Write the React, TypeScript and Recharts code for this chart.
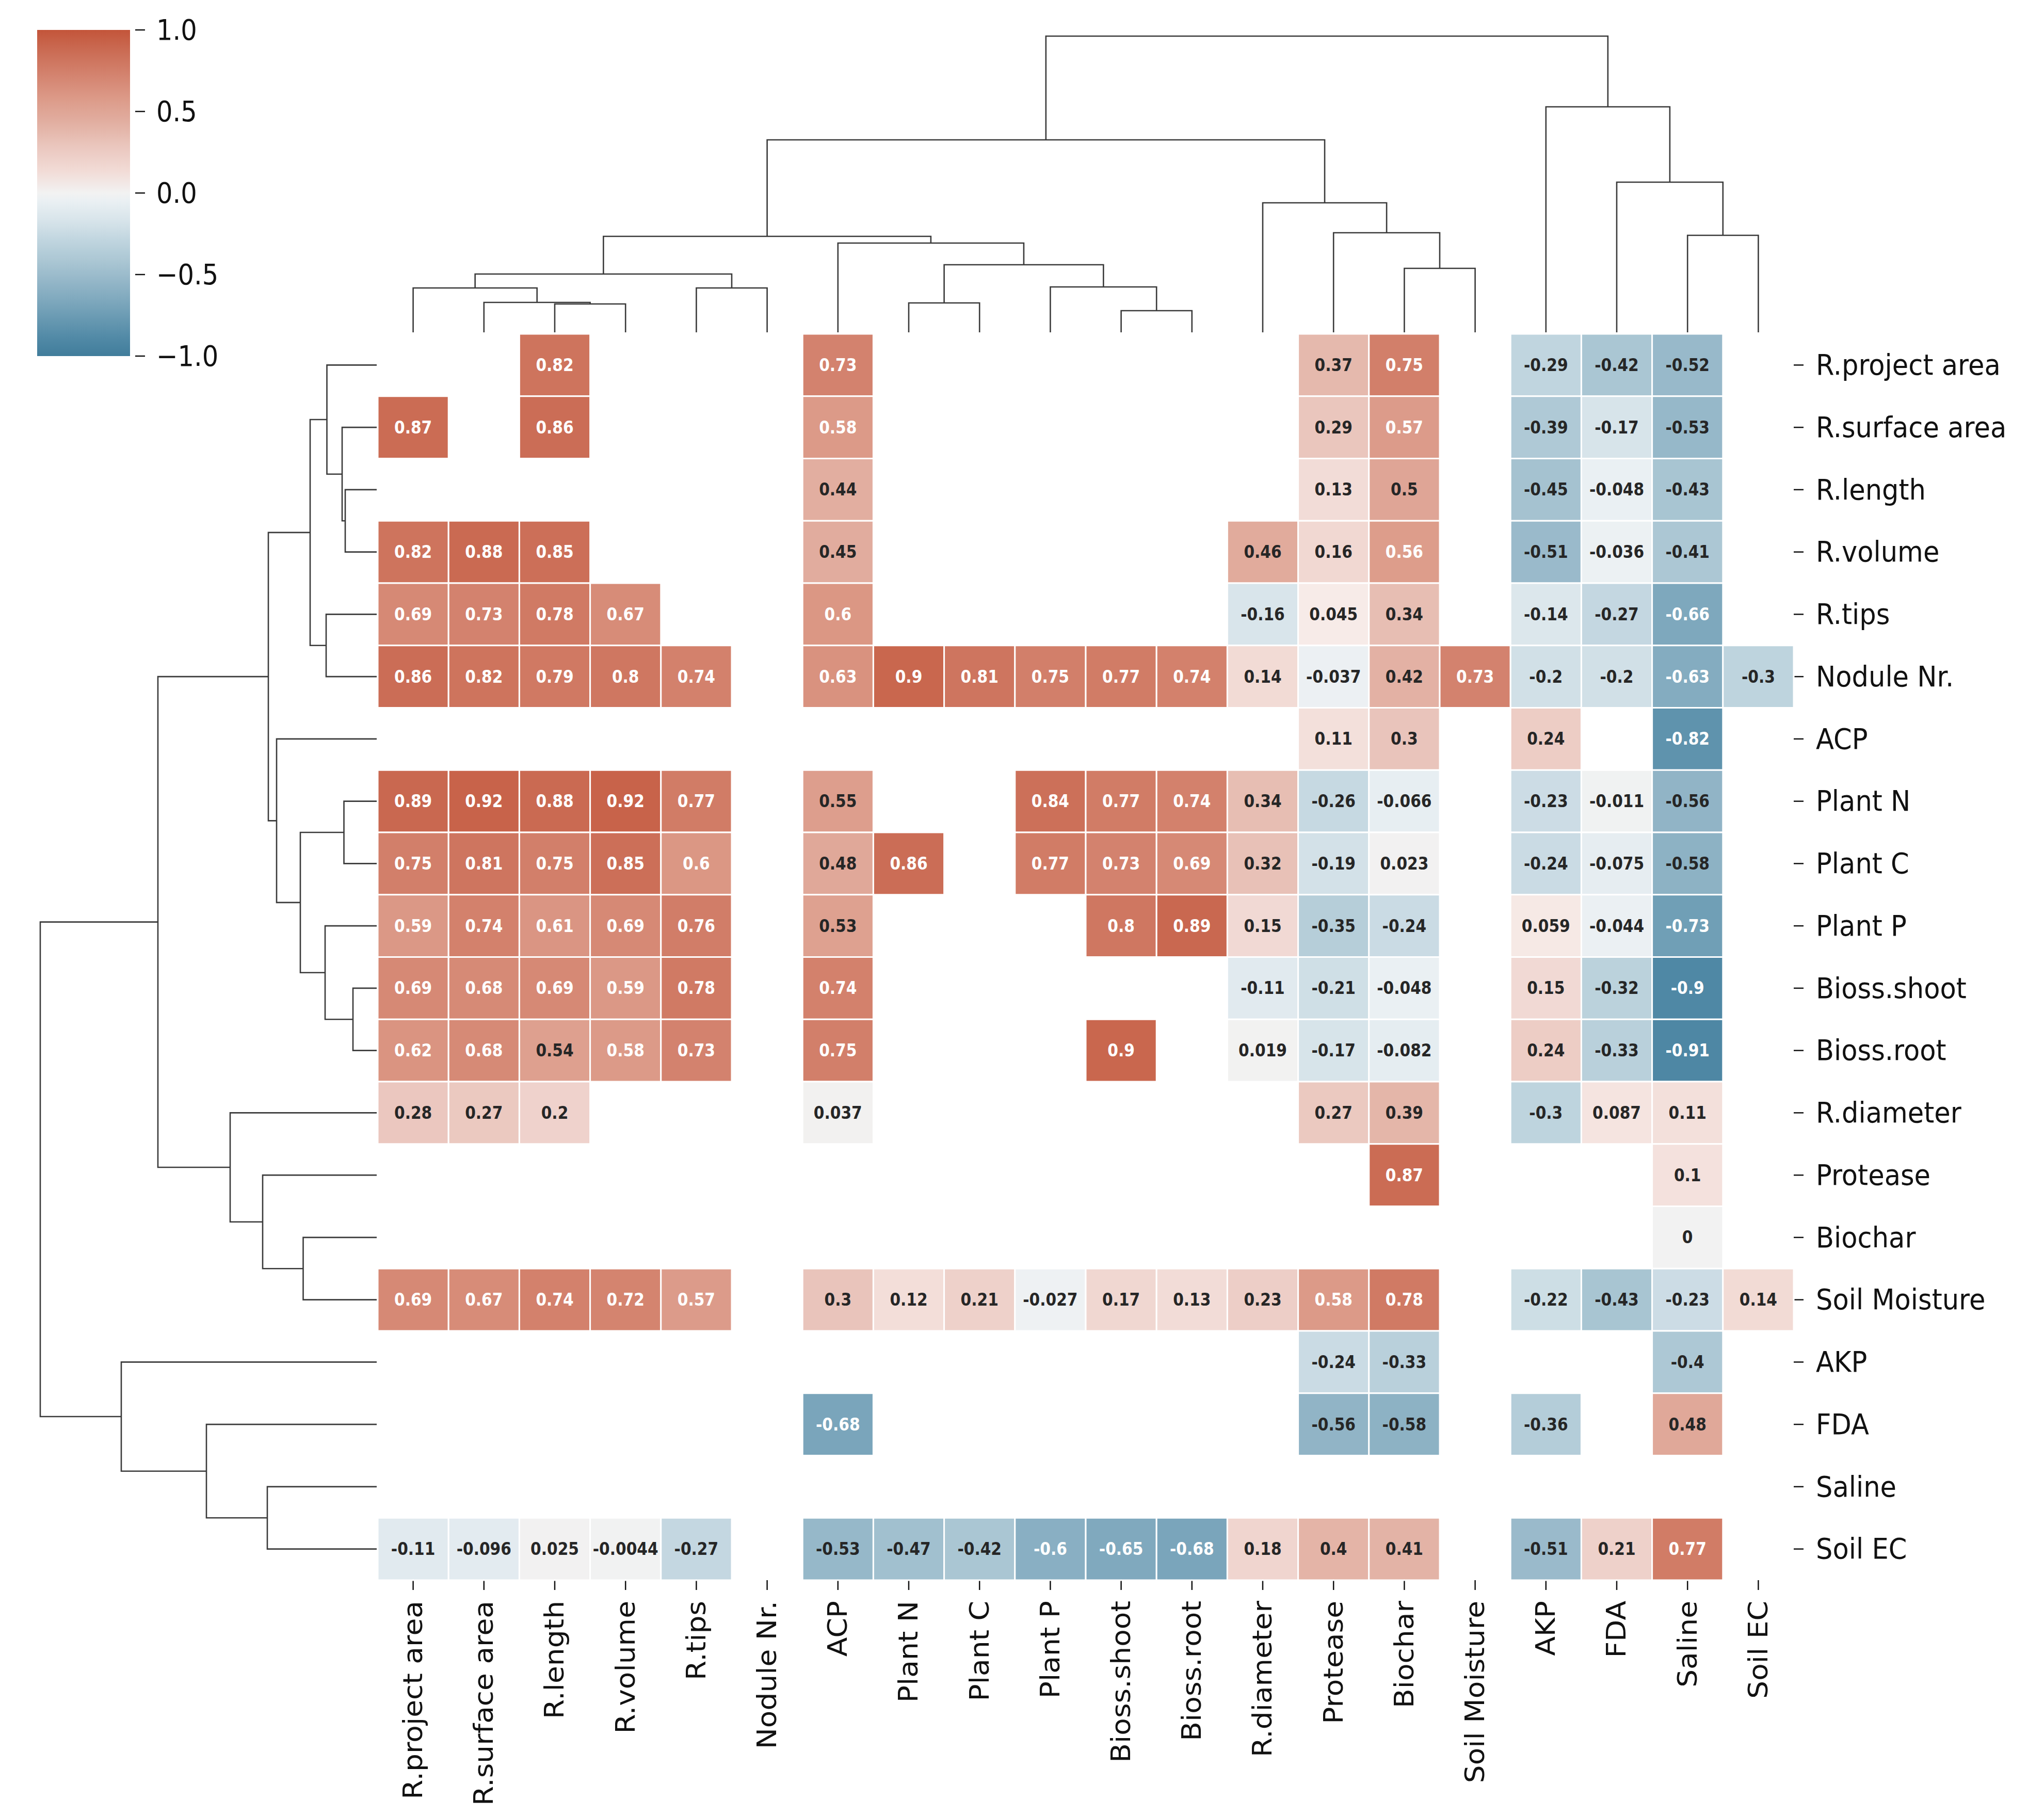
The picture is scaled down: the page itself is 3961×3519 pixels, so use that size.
import React from 'react';
import { ScatterChart, Scatter, XAxis, YAxis, BarChart, Bar } from 'recharts';

// ---------- data ----------
const labels = [
  'R.project area', 'R.surface area', 'R.length', 'R.volume', 'R.tips', 'Nodule Nr.', 'ACP',
  'Plant N', 'Plant C', 'Plant P', 'Bioss.shoot', 'Bioss.root', 'R.diameter', 'Protease',
  'Biochar', 'Soil Moisture', 'AKP', 'FDA', 'Saline', 'Soil EC',
];
const n = null;
const rowRProjectArea = [n, n, 0.82, n, n, n, 0.73, n, n, n, n, n, n, 0.37, 0.75, n, -0.29, -0.42, -0.52, n];
const rowRSurfaceArea = [0.87, n, 0.86, n, n, n, 0.58, n, n, n, n, n, n, 0.29, 0.57, n, -0.39, -0.17, -0.53, n];
const rowRLength = [n, n, n, n, n, n, 0.44, n, n, n, n, n, n, 0.13, 0.5, n, -0.45, -0.048, -0.43, n];
const rowRVolume = [0.82, 0.88, 0.85, n, n, n, 0.45, n, n, n, n, n, 0.46, 0.16, 0.56, n, -0.51, -0.036, -0.41, n];
const rowRTips = [0.69, 0.73, 0.78, 0.67, n, n, 0.6, n, n, n, n, n, -0.16, 0.045, 0.34, n, -0.14, -0.27, -0.66, n];
const rowNodule = [0.86, 0.82, 0.79, 0.8, 0.74, n, 0.63, 0.9, 0.81, 0.75, 0.77, 0.74, 0.14, -0.037, 0.42, 0.73, -0.2, -0.2, -0.63, -0.3];
const rowACP = [n, n, n, n, n, n, n, n, n, n, n, n, n, 0.11, 0.3, n, 0.24, n, -0.82, n];
const rowPlantN = [0.89, 0.92, 0.88, 0.92, 0.77, n, 0.55, n, n, 0.84, 0.77, 0.74, 0.34, -0.26, -0.066, n, -0.23, -0.011, -0.56, n];
const rowPlantC = [0.75, 0.81, 0.75, 0.85, 0.6, n, 0.48, 0.86, n, 0.77, 0.73, 0.69, 0.32, -0.19, 0.023, n, -0.24, -0.075, -0.58, n];
const rowPlantP = [0.59, 0.74, 0.61, 0.69, 0.76, n, 0.53, n, n, n, 0.8, 0.89, 0.15, -0.35, -0.24, n, 0.059, -0.044, -0.73, n];
const rowBiossShoot = [0.69, 0.68, 0.69, 0.59, 0.78, n, 0.74, n, n, n, n, n, -0.11, -0.21, -0.048, n, 0.15, -0.32, -0.9, n];
const rowBiossRoot = [0.62, 0.68, 0.54, 0.58, 0.73, n, 0.75, n, n, n, 0.9, n, 0.019, -0.17, -0.082, n, 0.24, -0.33, -0.91, n];
const rowRDiameter = [0.28, 0.27, 0.2, n, n, n, 0.037, n, n, n, n, n, n, 0.27, 0.39, n, -0.3, 0.087, 0.11, n];
const rowProtease = [n, n, n, n, n, n, n, n, n, n, n, n, n, n, 0.87, n, n, n, 0.1, n];
const rowBiochar = [n, n, n, n, n, n, n, n, n, n, n, n, n, n, n, n, n, n, 0, n];
const rowSoilMoisture = [0.69, 0.67, 0.74, 0.72, 0.57, n, 0.3, 0.12, 0.21, -0.027, 0.17, 0.13, 0.23, 0.58, 0.78, n, -0.22, -0.43, -0.23, 0.14];
const rowAKP = [n, n, n, n, n, n, n, n, n, n, n, n, n, -0.24, -0.33, n, n, n, -0.4, n];
const rowFDA = [n, n, n, n, n, n, -0.68, n, n, n, n, n, n, -0.56, -0.58, n, -0.36, n, 0.48, n];
const rowSaline = [n, n, n, n, n, n, n, n, n, n, n, n, n, n, n, n, n, n, n, n];
const rowSoilEC = [-0.11, -0.096, 0.025, -0.0044, -0.27, n, -0.53, -0.47, -0.42, -0.6, -0.65, -0.68, 0.18, 0.4, 0.41, n, -0.51, 0.21, 0.77, n];

const matrix = [
  rowRProjectArea, rowRSurfaceArea, rowRLength, rowRVolume, rowRTips, rowNodule, rowACP,
  rowPlantN, rowPlantC, rowPlantP, rowBiossShoot, rowBiossRoot, rowRDiameter, rowProtease,
  rowBiochar, rowSoilMoisture, rowAKP, rowFDA, rowSaline, rowSoilEC,
];

// linkage: [childA, childB, distance]; leaves 0..19 in display order, link k -> node 20+k
const colLinkage = [
  [2, 3, 0.55], [1, 20, 0.58], [0, 21, 0.86], [4, 5, 0.86], [22, 23, 1.13],
  [7, 8, 0.57], [10, 11, 0.42], [9, 26, 0.88], [25, 27, 1.31], [6, 28, 1.73],
  [24, 29, 1.86], [14, 15, 1.24], [13, 31, 1.93], [12, 32, 2.51], [30, 33, 3.73],
  [18, 19, 1.88], [17, 35, 2.91], [16, 36, 4.37], [34, 37, 5.74],
];
const rowLinkage = [
  [2, 3, 0.61], [1, 20, 0.67], [0, 21, 0.965], [4, 5, 0.98], [22, 23, 1.29],
  [7, 8, 0.635], [10, 11, 0.46], [9, 26, 1.0], [25, 27, 1.48], [6, 28, 1.94],
  [24, 29, 2.1], [14, 15, 1.425], [13, 31, 2.21], [12, 32, 2.84], [30, 33, 4.24],
  [18, 19, 2.12], [17, 35, 3.3], [16, 36, 4.95], [34, 37, 6.52],
];

const colorbarTicks = [-1, -0.5, 0, 0.5, 1];

// ---------- styles ----------
const colorStops: [number, string][] = [
  [-1, '#417d9b'], [-0.9, '#4f88a5'], [-0.66, '#7ea8bd'], [-0.52, '#98b9ca'], [-0.42, '#aac6d3'],
  [-0.29, '#c0d5df'], [-0.16, '#d9e5eb'], [-0.048, '#eaf0f3'], [0, '#f2f2f2'], [0.038, '#f2f1f0'],
  [0.045, '#f7ebe8'], [0.13, '#f2dcd7'], [0.29, '#eac6bd'], [0.37, '#e5b9ad'], [0.45, '#e1ac9e'],
  [0.58, '#dc9a88'], [0.75, '#d27f6a'], [0.88, '#ca6a52'], [1, '#c3553a'],
];
const gradientStops: [number, string][] = [
  [-1, '#417d9b'], [-0.9, '#4f88a5'], [-0.66, '#7ea8bd'], [-0.52, '#98b9ca'], [-0.42, '#aac6d3'],
  [-0.29, '#c0d5df'], [-0.16, '#d9e5eb'], [-0.048, '#eaf0f3'], [0, '#f2f2f2'],
  [0.13, '#f2dcd7'], [0.29, '#eac6bd'], [0.37, '#e5b9ad'], [0.45, '#e1ac9e'],
  [0.58, '#dc9a88'], [0.75, '#d27f6a'], [0.88, '#ca6a52'], [1, '#c3553a'],
];
const hexToRgb = (h: string) => [1, 3, 5].map((i) => parseInt(h.slice(i, i + 2), 16));
function colorFor(v: number) {
  for (let i = 0; i < colorStops.length - 1; i++) {
    const [a, ca] = colorStops[i];
    const [b, cb] = colorStops[i + 1];
    if (v >= a && v <= b) {
      const t = b === a ? 0 : (v - a) / (b - a);
      const A = hexToRgb(ca), B = hexToRgb(cb);
      const c = A.map((x, k) => Math.round(x + (B[k] - x) * t));
      return `rgb(${c[0]},${c[1]},${c[2]})`;
    }
  }
  return v < 0 ? colorStops[0][1] : colorStops[colorStops.length - 1][1];
}
const FONT = 'DejaVu Sans';
const LABEL_SIZE = 55;
const LABEL_SX = 0.93;
const DENDRO_STROKE = '#3a3a3a';

const HM_W = 2744;
const HM_H = 2415;
const CW = HM_W / 20;
const CH = HM_H / 20;

// ---------- derived ----------
const cells = matrix.flatMap((row, r) =>
  row
    .map((v, c) => (v === null ? null : { x: c + 0.5, y: r + 0.5, v }))
    .filter((d) => d !== null)
);
const leafTicks = labels.map((_, i) => i + 0.5);

function linkSegments(linkage: number[][]) {
  const pos: number[] = [];
  const hgt: number[] = [];
  for (let i = 0; i < 20; i++) { pos[i] = i + 0.5; hgt[i] = 0; }
  return linkage.map(([a, b, d], k) => {
    const pts = [
      { p: pos[a], h: hgt[a] },
      { p: pos[a], h: d },
      { p: pos[b], h: d },
      { p: pos[b], h: hgt[b] },
    ];
    pos[20 + k] = (pos[a] + pos[b]) / 2;
    hgt[20 + k] = d;
    return pts;
  });
}
const colSegs = linkSegments(colLinkage);
const rowSegs = linkSegments(rowLinkage);

const CellShape = (props: any) => {
  const { cx, cy, payload } = props;
  const v = payload.v as number;
  const white = v >= 0.555 || v <= -0.59;
  return (
    <g>
      <rect x={cx - CW / 2} y={cy - CH / 2} width={CW} height={CH} fill={colorFor(v)} stroke="#ffffff" strokeWidth={3} />
      <text x={0} y={0} transform={`translate(${cx},${cy}) scale(0.9,1)`} textAnchor="middle" dominantBaseline="central" fontFamily={FONT} fontWeight="bold" fontSize={33} fill={white ? '#ffffff' : '#262626'}>
        {String(v)}
      </text>
    </g>
  );
};

const BottomTick = (props: any) => {
  const { x, y, payload } = props;
  const name = labels[Math.round(payload.value - 0.5)];
  return (
    <text x={0} y={0} transform={`translate(${x},${y}) rotate(-90) scale(1,${LABEL_SX})`} textAnchor="end" dominantBaseline="central" fontFamily={FONT} fontSize={LABEL_SIZE} fill="#111">
      {name}
    </text>
  );
};

const RightTick = (props: any) => {
  const { x, y, payload } = props;
  const name = labels[Math.round(payload.value - 0.5)];
  return (
    <text x={0} y={0} transform={`translate(${x},${y}) scale(${LABEL_SX},1)`} textAnchor="start" dominantBaseline="central" fontFamily={FONT} fontSize={LABEL_SIZE} fill="#111">
      {name}
    </text>
  );
};

const CbarTick = (props: any) => {
  const { x, y, payload } = props;
  const v = payload.value as number;
  const s = (v < 0 ? '\u2212' : '') + Math.abs(v).toFixed(1);
  return (
    <text x={0} y={0} transform={`translate(${x},${y}) scale(0.9,1)`} textAnchor="start" dominantBaseline="central" fontFamily={FONT} fontSize={55} fill="#111">
      {s}
    </text>
  );
};

const Empty = () => <g />;

export default function App() {
  return (
    <div style={{ position: 'relative', width: 3961, height: 3519, margin: -8, background: '#ffffff', overflow: 'hidden' }}>
      {/* colorbar */}
      <div style={{ position: 'absolute', left: 0, top: 0 }}>
        <BarChart width={520} height={740} data={[{ name: 'cbar', range: [-1, 1] }]} margin={{ top: 58, left: 62, right: 58, bottom: 50 }}>
          <defs>
            <linearGradient id="cbarGrad" x1="0" y1="0" x2="0" y2="1">
              {gradientStops.slice().reverse().map(([v, c]) => (
                <stop key={v} offset={`${((1 - v) / 2) * 100}%`} stopColor={c} />
              ))}
            </linearGradient>
          </defs>
          <XAxis dataKey="name" type="category" hide />
          <YAxis orientation="right" type="number" domain={[-1, 1]} ticks={colorbarTicks} width={200}
            axisLine={false} tickSize={19} tickMargin={22} interval={0}
            tickLine={{ stroke: '#111', strokeWidth: 2.5 }}
            tick={<CbarTick />} />
          <Bar dataKey="range" fill="url(#cbarGrad)" barSize={200} isAnimationActive={false} />
        </BarChart>
      </div>

      {/* top dendrogram */}
      <div style={{ position: 'absolute', left: 700, top: 0 }}>
        <ScatterChart width={2900} height={660} margin={{ top: 44, left: 32, right: 124, bottom: 16 }}>
          <XAxis type="number" dataKey="p" domain={[0, 20]} hide />
          <YAxis type="number" dataKey="h" domain={[0, 6]} hide />
          {colSegs.map((seg, i) => (
            <Scatter key={i} data={seg} shape={<Empty />} line={{ stroke: DENDRO_STROKE, strokeWidth: 2.6, fill: 'none' }} isAnimationActive={false} />
          ))}
        </ScatterChart>
      </div>

      {/* left dendrogram */}
      <div style={{ position: 'absolute', left: 0, top: 600 }}>
        <ScatterChart width={760} height={2500} margin={{ top: 47, left: 30, right: 30, bottom: 38 }}>
          <XAxis type="number" dataKey="h" domain={[0, 7]} reversed hide />
          <YAxis type="number" dataKey="p" domain={[0, 20]} reversed hide />
          {rowSegs.map((seg, i) => (
            <Scatter key={i} data={seg} shape={<Empty />} line={{ stroke: DENDRO_STROKE, strokeWidth: 2.6, fill: 'none' }} isAnimationActive={false} />
          ))}
        </ScatterChart>
      </div>

      {/* heatmap */}
      <div style={{ position: 'absolute', left: 700, top: 600 }}>
        <ScatterChart width={3261} height={2919} margin={{ top: 47, left: 32, right: 15, bottom: 17 }}>
          <XAxis type="number" dataKey="x" domain={[0, 20]} ticks={leafTicks} interval={0} height={440}
            axisLine={false} tickSize={19} tickMargin={21}
            tickLine={{ stroke: '#111', strokeWidth: 2.5 }} tick={<BottomTick />} />
          <YAxis type="number" dataKey="y" domain={[0, 20]} reversed orientation="right" ticks={leafTicks} interval={0} width={470}
            axisLine={false} tickSize={19} tickMargin={24}
            tickLine={{ stroke: '#111', strokeWidth: 2.5 }}
            tick={<RightTick />} />
          <Scatter data={cells} shape={<CellShape />} isAnimationActive={false} />
        </ScatterChart>
      </div>
    </div>
  );
}
